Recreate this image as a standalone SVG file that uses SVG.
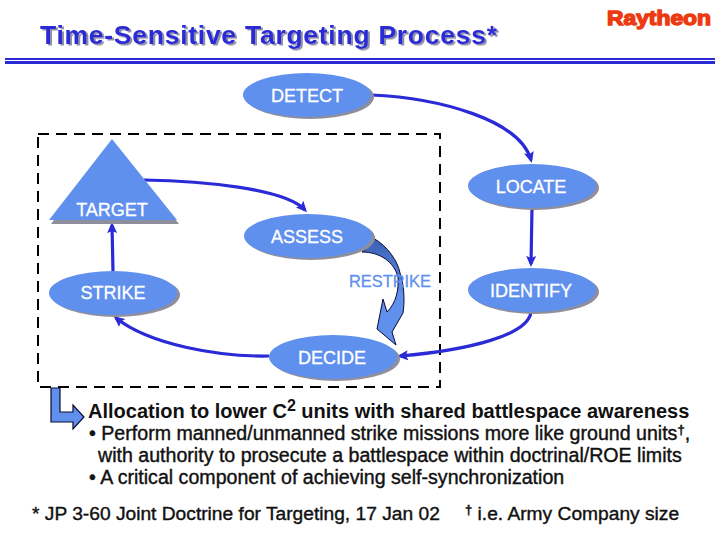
<svg xmlns="http://www.w3.org/2000/svg" width="720" height="540" viewBox="0 0 720 540">
<style>
text{font-family:"Liberation Sans",Arial,sans-serif}
.shape{fill:#6090ee}
.shadow{fill:#8e8e9c}
.label{fill:#fff;font-size:18px;text-anchor:middle;stroke:#fff;stroke-width:.3}
.conn{fill:none;stroke:#2a2ad6;stroke-width:3.2}
.body{fill:#111;font-size:19.6px;stroke:#111;stroke-width:.4}
.foot{fill:#111;font-size:19.2px;stroke:#111;stroke-width:.4}
.head{fill:#111;font-size:20px;font-weight:bold}
.sup{font-size:13px;font-weight:bold}
.sup2{font-size:16px;font-weight:bold}
</style>
<defs>
<marker id="ah" markerUnits="userSpaceOnUse" markerWidth="14" markerHeight="14" viewBox="0 0 14 14" refX="8" refY="7" orient="auto">
<path d="M0 2L11 7L0 12L2 7Z" fill="#2a2ad6"/>
</marker>
<linearGradient id="rg" x1="0" y1="0" x2="0" y2="1">
<stop offset="0" stop-color="#3a5fb4"/><stop offset=".55" stop-color="#6090ee"/><stop offset="1" stop-color="#6090ee"/>
</linearGradient>
<filter id="ts" x="-5%" y="-20%" width="110%" height="150%"><feDropShadow dx="2" dy="1.5" stdDeviation="0.4" flood-color="#8f8fa8"/></filter>
</defs>
<rect width="720" height="540" fill="#fff"/>
<g id="title">
<text x="40" y="44" font-size="26.5" font-weight="bold" fill="#2a2ad6" textLength="457" lengthAdjust="spacing" filter="url(#ts)">Time-Sensitive Targeting Process*</text>
<rect x="5" y="58" width="710" height="2" fill="#2a2ad6"/>
<rect x="5" y="61" width="710" height="3" fill="#2a2ad6"/>
</g>
<g id="logo">
<text x="607" y="25" font-size="20" font-weight="bold" fill="#ee3a10" stroke="#ee3a10" stroke-width="1.4" textLength="104" lengthAdjust="spacingAndGlyphs">Raytheon</text>
</g>
<rect id="boundary" x="38" y="134" width="402" height="253" fill="none" stroke="#000" stroke-width="2" stroke-dasharray="11 7"/>
<g id="connectors">
<path class="conn" marker-end="url(#ah)" d="M371 95C440 98 520 120 531 160"/>
<path class="conn" marker-end="url(#ah)" d="M532 208L531 264"/>
<path class="conn" marker-end="url(#ah)" d="M531 312C528 335 470 350 400 356"/>
<path class="conn" marker-end="url(#ah)" d="M269 356C220 357 150 345 116 318"/>
<path class="conn" marker-end="url(#ah)" d="M113 271L112 225"/>
<path class="conn" marker-end="url(#ah)" d="M144 180C200 181 285 188 305 210"/>
</g>
<g id="detect"><ellipse class="shadow" cx="310" cy="97" rx="64" ry="22"/><ellipse class="shape" cx="307" cy="95" rx="64" ry="22"/><text class="label" x="307" y="102">DETECT</text></g>
<g id="locate"><ellipse class="shadow" cx="535" cy="188" rx="64" ry="22"/><ellipse class="shape" cx="532" cy="186" rx="64" ry="22"/><text class="label" x="531" y="193">LOCATE</text></g>
<g id="identify"><ellipse class="shadow" cx="535" cy="292" rx="64" ry="22"/><ellipse class="shape" cx="532" cy="290" rx="64" ry="22"/><text class="label" x="531" y="297">IDENTIFY</text></g>
<g id="restrike">
<path d="M373 238C388 246 398 262 400 273C404 285 405 300 403 313L392 332L396 345L377 329L383 299L387 312C396 303 399 290 398 277C394 262 380 252 362 252C367 249 371 244 373 238Z" fill="url(#rg)" stroke="#0a0a30" stroke-width="1"/>
<text x="349" y="287" font-size="16.4" fill="#6090ee" stroke="#6090ee" stroke-width=".3">RESTRIKE</text>
</g>
<g id="decide"><ellipse class="shadow" cx="336" cy="359" rx="64" ry="22"/><ellipse class="shape" cx="333" cy="357" rx="64" ry="22"/><text class="label" x="332" y="364">DECIDE</text></g>
<g id="assess"><ellipse class="shadow" cx="311" cy="238" rx="64" ry="22"/><ellipse class="shape" cx="308" cy="236" rx="64" ry="22"/><text class="label" x="307" y="243">ASSESS</text></g>
<g id="strike"><ellipse class="shadow" cx="116" cy="295" rx="64" ry="22"/><ellipse class="shape" cx="113" cy="293" rx="64" ry="22"/><text class="label" x="113" y="299">STRIKE</text></g>
<g id="target"><path class="shadow" d="M113 142L179 224H51Z"/><path class="shape" d="M112 139L177 220H49Z"/><text class="label" x="112" y="216">TARGET</text></g>
<g id="notes">
<path d="M51 388H60V412H73V405L84 417L73 429V422H51Z" fill="#6090ee" stroke="#0a0a30" stroke-width="1.2"/>
<text class="head" x="88" y="418">Allocation to lower C<tspan class="sup2" dy="-7">2</tspan><tspan dy="7"> units with shared battlespace awareness</tspan></text>
<text class="body" x="89" y="440">• Perform manned/unmanned strike missions more like ground units<tspan class="sup" dy="-6">†</tspan><tspan dy="6">,</tspan></text>
<text class="body" x="98" y="462">with authority to prosecute a battlespace within doctrinal/ROE limits</text>
<text class="body" x="89" y="484">• A critical component of achieving self-synchronization</text>
<text class="foot" x="32" y="520">* JP 3-60 Joint Doctrine for Targeting, 17 Jan 02</text>
<text class="foot" x="465" y="520"><tspan class="sup" dy="-6">†</tspan><tspan dy="6"> i.e. Army Company size</tspan></text>
</g>
</svg>
